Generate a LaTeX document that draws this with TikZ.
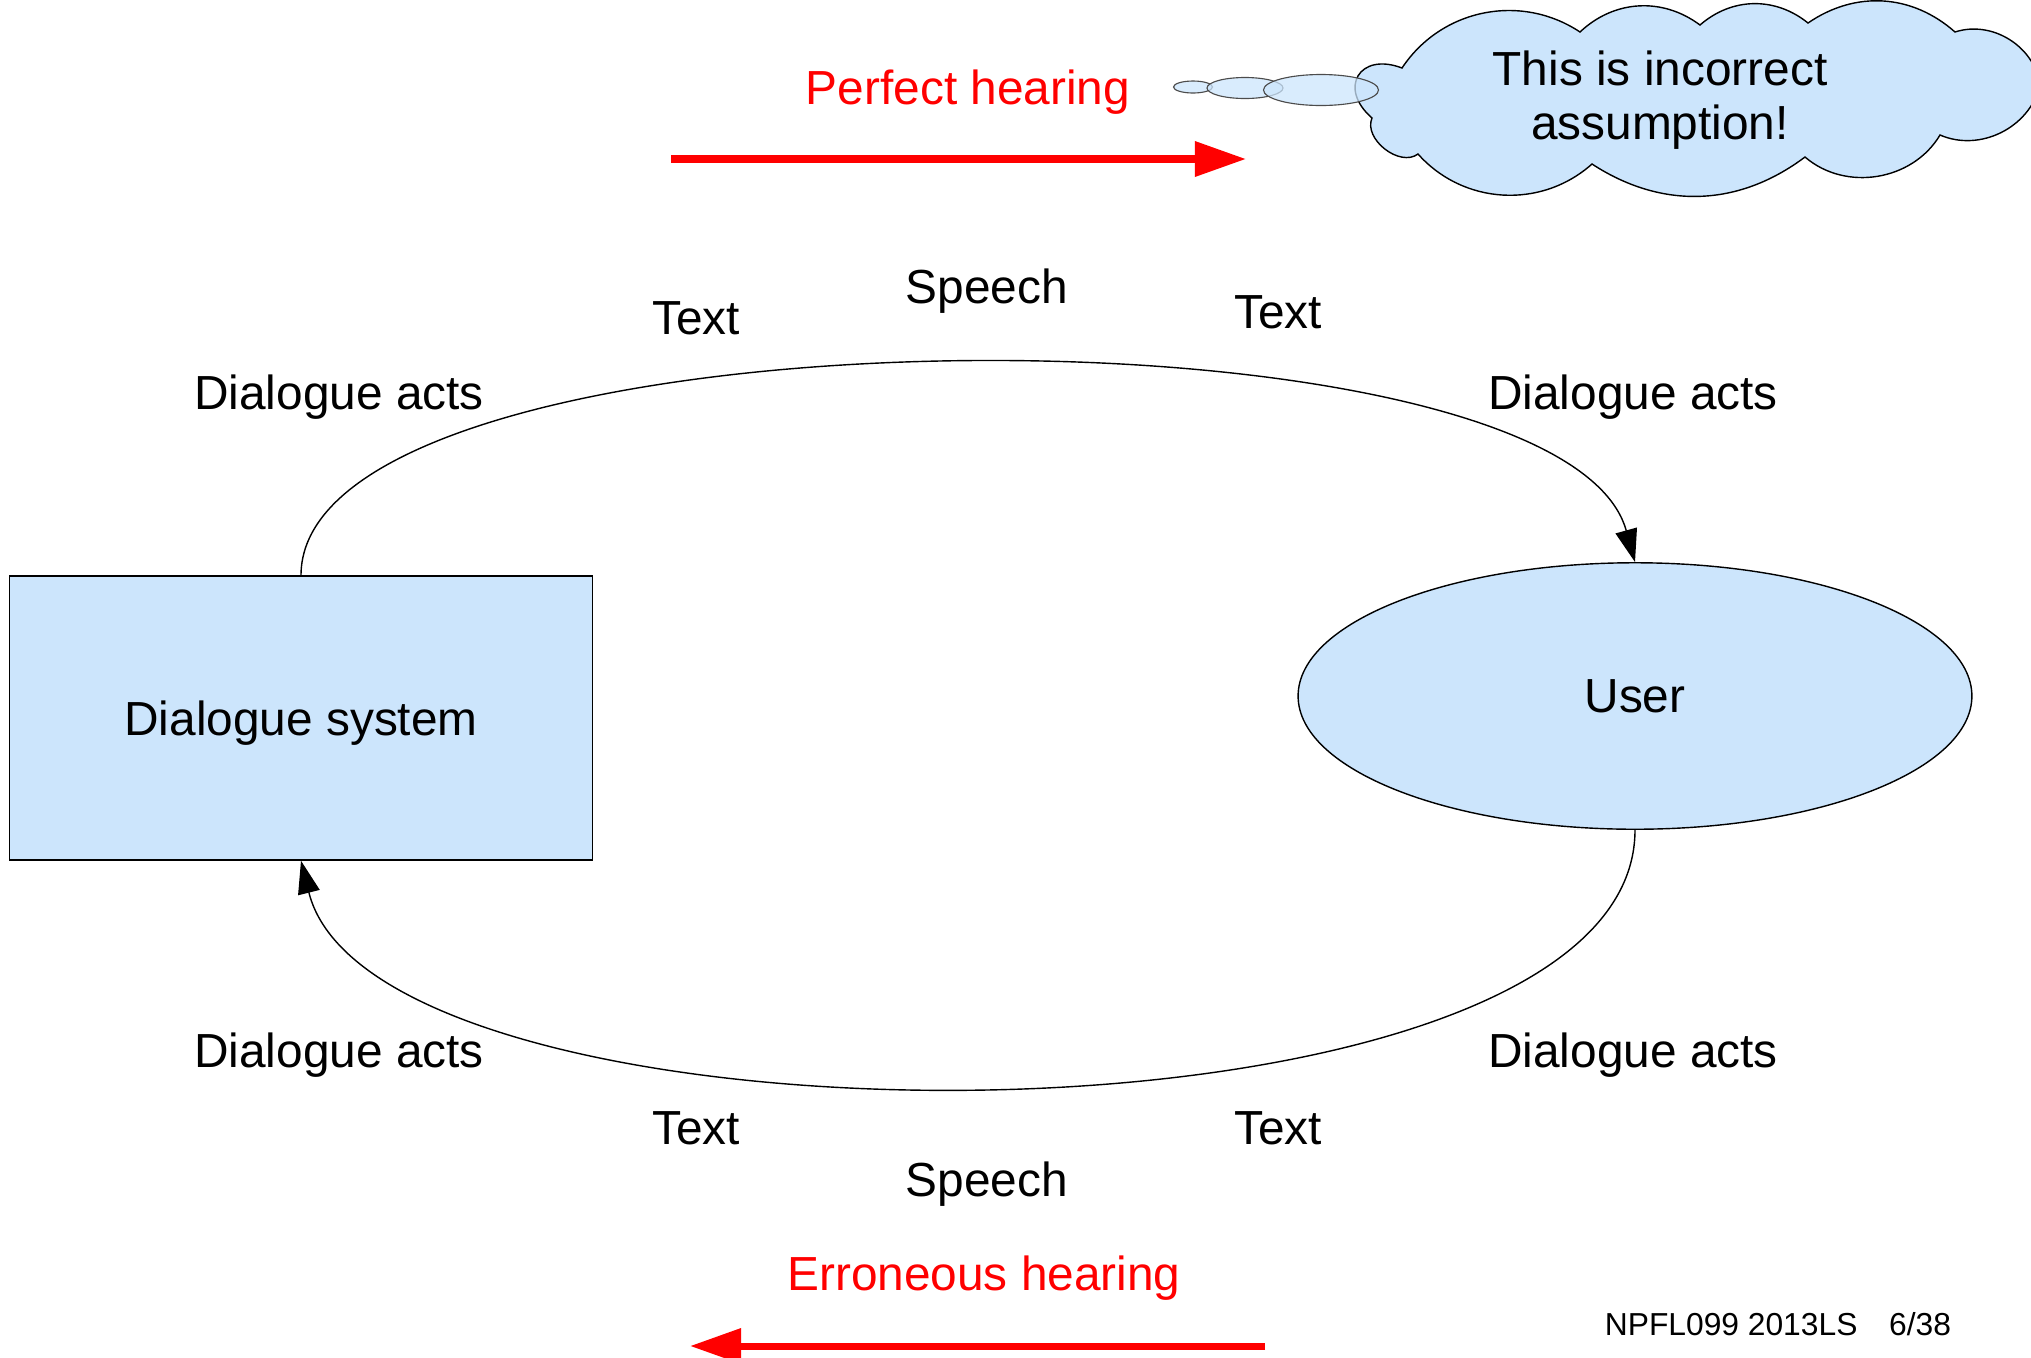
\documentclass[tikz,border=0pt]{standalone}
\usepackage{fontspec}
\setmainfont{Liberation Sans}
\usepackage{tikz}
\usetikzlibrary{shapes,arrows.meta}
\definecolor{paleblue}{RGB}{204,229,252}
\tikzstyle{block} = [draw, fill=paleblue, rectangle, line width=0.5pt,
    minimum width=7.29cm, minimum height=3.55cm, inner sep=0pt, text depth=0pt]
\tikzstyle{party} = [draw, fill=paleblue, ellipse, line width=0.5pt,
    minimum width=8.42cm, minimum height=3.33cm, inner sep=0pt]
\tikzstyle{txt} = [font=\fontsize{17}{20}\selectfont, inner sep=0pt, anchor=base]
\tikzstyle{redtxt} = [txt, text=red]
\tikzstyle{hearing} = [red, line width=2.5pt, -{Triangle[length=0.64cm,width=0.425cm]}]
\tikzstyle{puff} = [draw, fill=paleblue, line width=0.5pt]
\tikzstyle{bubble} = [draw=black!70, fill=paleblue, fill opacity=0.75, ellipse,
    line width=0.4pt, inner sep=0pt]

\begin{document}
\begin{tikzpicture}[x=0.0125cm, y=-0.0125cm, >={Triangle[length=0.41cm,width=0.275cm]}]
    \useasboundingbox (0,0) rectangle (2031,1358);
    % We start by placing the two parties
    \node [block] (sys) at (301,718) {\fontsize{17}{20}\selectfont Dialogue system};
    \node [party] (user) at (1635,696) {\fontsize{17}{20}\selectfont User};
    % The loop between them
    \draw [->, line width=0.5pt] (sys.north) .. controls (302,302) and (1560,292) .. (user.north);
    \draw [->, line width=0.5pt] (user.south) .. controls (1635,1166) and (377,1166) .. (sys.south);
    % Labels along the upper arc
    \node [txt] (actsTL) at (339,409) {Dialogue acts};
    \node [txt] (textTL) at (696,334) {Text};
    \node [txt] (speechT) at (987,303) {Speech};
    \node [txt] (textTR) at (1278,328) {Text};
    \node [txt] (actsTR) at (1633,409) {Dialogue acts};
    % Labels along the lower arc
    \node [txt] (actsBL) at (339,1067) {Dialogue acts};
    \node [txt] (textBL) at (696,1144) {Text};
    \node [txt] (speechB) at (987,1196) {Speech};
    \node [txt] (textBR) at (1278,1144) {Text};
    \node [txt] (actsBR) at (1633,1067) {Dialogue acts};
    % Hearing arrows
    \node [redtxt] (perfect) at (968,104) {Perfect hearing};
    \coordinate (pfA) at (671,159);
    \coordinate (pfB) at (1246,159);
    \draw [hearing] (pfA) -- (pfB);
    \node [redtxt] (erroneous) at (984,1290) {Erroneous hearing};
    \coordinate (erA) at (1265,1346);
    \coordinate (erB) at (690,1346);
    \draw [hearing] (erA) -- (erB);
    % The thought cloud
    \draw [puff] (1402,68) to[bend left=45] (1580,32) to[bend left=40] (1700,25)
        to[bend left=40] (1808,23) to[bend left=38] (1955,32) to[bend left=50] (2040,85)
        to[bend left=50] (1940,135) to[bend left=50] (1805,157) to[bend left=35] (1592,164)
        to[bend left=45] (1418,154) to[bend left=75] (1372,118)
        to[bend left=80, looseness=2] (1402,68) -- cycle;
    \node [bubble, minimum width=39*0.0125cm, minimum height=12*0.0125cm] (b1) at (1193,87) {};
    \node [bubble, minimum width=76*0.0125cm, minimum height=21*0.0125cm] (b2) at (1245,88) {};
    \node [bubble, minimum width=115*0.0125cm, minimum height=31*0.0125cm] (b3) at (1321,90) {};
    \node [txt, align=center, font=\fontsize{17}{19.2}\selectfont] (note) at (1660,139)
        {This is incorrect\\assumption!};
    % Footer
    \node [txt, font=\fontsize{11.3}{13}\selectfont] (footer) at (1778,1335)
        {NPFL099 2013LS\quad 6/38};
\end{tikzpicture}
\end{document}
